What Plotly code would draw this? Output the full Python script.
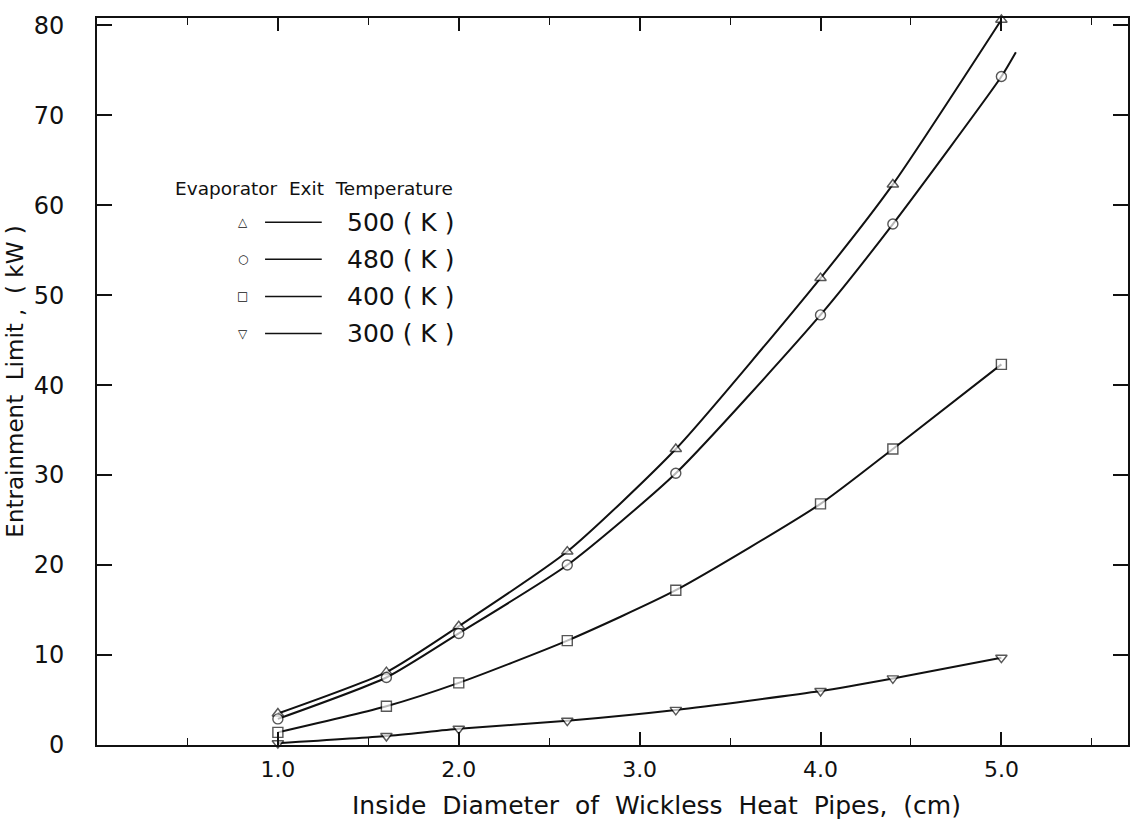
import plotly.graph_objects as go

# Inside diameter of the pipe (cm) at which the limit was evaluated
DIAMETER = [1.0, 1.6, 2.0, 2.6, 3.2, 4.0, 4.4, 5.0]

# Entrainment limit (kW) for each evaporator exit temperature
LIMIT_500K = [3.5, 8.1, 13.2, 21.5, 32.9, 51.9, 62.3, 80.6]
LIMIT_480K = [2.9, 7.5, 12.4, 20.0, 30.2, 47.8, 57.9, 74.3]
LIMIT_400K = [1.4, 4.3, 6.9, 11.6, 17.2, 26.8, 32.9, 42.3]
LIMIT_300K = [0.2, 1.0, 1.8, 2.7, 3.9, 6.0, 7.4, 9.7]

# The 480 K curve is drawn a little past its last computed point
TAIL_480K_X = [5.08]
TAIL_480K_Y = [77.0]

SERIES = [
    ("500 ( K )", DIAMETER, LIMIT_500K, "triangle-up", "△"),
    ("480 ( K )", DIAMETER + TAIL_480K_X, LIMIT_480K + TAIL_480K_Y, "circle", "○"),
    ("400 ( K )", DIAMETER, LIMIT_400K, "square", "□"),
    ("300 ( K )", DIAMETER, LIMIT_300K, "triangle-down", "▽"),
]

X_TICKS = [1.0, 2.0, 3.0, 4.0, 5.0]
X_TICK_TEXT = ["1.0", "2.0", "3.0", "4.0", "5.0"]
Y_TICKS = [0, 10, 20, 30, 40, 50, 60, 70, 80]

INK = "#111111"
FONT = "DejaVu Sans"

fig = go.Figure()

for name, xs, ys, symbol, _ in SERIES:
    sizes = [10 if x in DIAMETER else 0 for x in xs]
    fig.add_trace(go.Scatter(
        x=xs, y=ys, name=name, mode="lines+markers",
        line=dict(color=INK, width=2, shape="spline", smoothing=0.6),
        marker=dict(symbol=symbol, size=sizes, color="white",
                    line=dict(color=INK, width=1.4)),
        showlegend=False, cliponaxis=False,
    ))

axis_common = dict(
    showgrid=False, zeroline=False, showline=True, linecolor=INK, linewidth=2,
    mirror="ticks", ticks="inside", tickcolor=INK, tickwidth=1.5,
)

fig.update_xaxes(
    range=[0, 5.7], tickvals=X_TICKS, ticktext=X_TICK_TEXT, ticklen=13,
    minor=dict(dtick=0.5, tick0=0, ticks="inside", ticklen=7, tickcolor=INK, tickwidth=1.2),
    tickfont=dict(family=FONT, size=22, color=INK), ticklabelstandoff=4,
    **axis_common,
)
fig.update_yaxes(
    range=[0, 80.8], tickvals=Y_TICKS, ticklen=15,
    tickfont=dict(family=FONT, size=24, color=INK), ticklabelstandoff=26,
    title=dict(text="Entrainment  Limit ,  ( kW )",
               font=dict(family=FONT, size=23, color=INK), standoff=4),
    **axis_common,
)

# X-axis caption, set slightly right of the plot centre
annotations = [dict(
    text="Inside  Diameter  of  Wickless  Heat  Pipes,  (cm)",
    x=0.543, y=-0.083, xref="paper", yref="paper",
    xanchor="center", yanchor="middle", showarrow=False,
    font=dict(family=FONT, size=25, color=INK),
)]

# Hand-built key in the upper left of the plotting area
annotations.append(dict(
    text="Evaporator  Exit  Temperature", x=0.074, y=0.766, xref="paper", yref="paper",
    xanchor="left", yanchor="middle", showarrow=False,
    font=dict(family=FONT, size=18.5, color=INK),
))
shapes = []
row_y = [0.719, 0.668, 0.617, 0.566]
for (name, _, _, _, glyph), ry in zip(SERIES, row_y):
    annotations.append(dict(
        text=glyph, x=0.1416, y=ry, xref="paper", yref="paper",
        xanchor="center", yanchor="middle", showarrow=False,
        font=dict(family=FONT, size=12, color=INK),
    ))
    annotations.append(dict(
        text=name, x=0.2405, y=ry, xref="paper", yref="paper",
        xanchor="left", yanchor="middle", showarrow=False,
        font=dict(family=FONT, size=25, color=INK),
    ))
    shapes.append(dict(
        type="line", xref="paper", yref="paper", x0=0.163, x1=0.218, y0=ry, y1=ry,
        line=dict(color=INK, width=1.5),
    ))

fig.update_layout(
    width=1143, height=823,
    margin=dict(l=97, r=15, t=18, b=78),
    paper_bgcolor="white", plot_bgcolor="white",
    annotations=annotations, shapes=shapes,
)

fig.write_html("out.html")
